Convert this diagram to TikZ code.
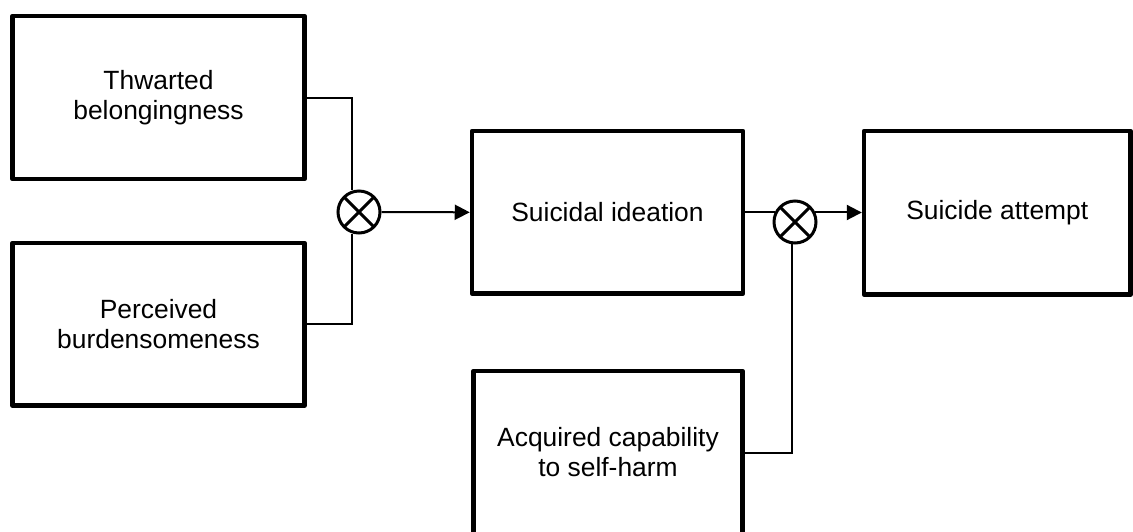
\documentclass[tikz,border=0pt]{standalone}
\usepackage{fontspec}
\setmainfont{Liberation Sans}
\usetikzlibrary{arrows.meta}
\begin{document}
\begin{tikzpicture}[x=1pt,y=-1pt,
  block/.style={draw, line width=4.5pt, line join=round, inner sep=0pt,
    align=center, font=\fontsize{26.4}{30}\selectfont},
  mult/.style={circle, draw, fill=white, line width=3pt, minimum size=42pt,
    inner sep=0pt,
    path picture={
      \draw[line width=3pt]
        (path picture bounding box.north west) -- (path picture bounding box.south east)
        (path picture bounding box.south west) -- (path picture bounding box.north east);
    }},
  link/.style={line width=2pt},
  feed/.style={link, -{Triangle[length=15pt,width=15pt]}}]
\useasboundingbox (0,0) rectangle (1133,531);
\clip (0,0) rectangle (1133,531);

% factor boxes
\node[block, minimum width=292pt, minimum height=163pt] (tb) at (158.5,97.5)
  {Thwarted\\belongingness};
\node[block, minimum width=292pt, minimum height=162.5pt] (pb) at (158.5,324.3)
  {Perceived\\burdensomeness};
\node[block, minimum width=271pt, minimum height=162.5pt] (si) at (607.5,212.3)
  {Suicidal ideation};
\node[block, minimum width=266.5pt, minimum height=163.5pt] (sa) at (997.3,212.8)
  {Suicide attempt};
\node[block, minimum width=269pt, minimum height=163pt] (ac) at (608,452.5)
  {Acquired capability\\to self-harm};

% interaction (multiplication) junctions
\node[mult] (m1) at (359,212) {};
\node[mult] (m2) at (795,222) {};

% connectors
\draw[link] (tb.east) -| (m1.107);
\draw[link] (pb.east) -| (m1.253);
\draw[feed] (m1.east) -- (si.west);
\draw[link] (m2.155 -| si.east) -- (m2.155);
\draw[feed] (m2.25) -- (m2.25 -| sa.west);
\draw[link] (ac.east) -| (m2.262);
\end{tikzpicture}
\end{document}
